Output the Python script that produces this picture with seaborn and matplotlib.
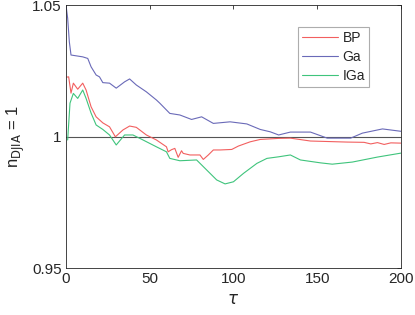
import numpy as np
import pandas as pd
import seaborn as sns
import matplotlib.pyplot as plt

# Values
bp_x = [0.5, 1.6, 3, 4.4, 7, 10, 12, 15, 18, 22, 26, 29.5, 34, 38, 42, 48, 54, 60,
        61, 63, 65, 67, 69, 70, 74, 80, 82, 85, 88, 92, 99, 103, 110, 116, 127,
        134, 146, 168, 178, 182, 186, 190, 194, 200]
bp_y = [1.0226, 1.0227, 1.0165, 1.0203, 1.0180, 1.0203, 1.0177, 1.0113, 1.0075, 1.0052,
        1.0037, 0.9999, 1.0025, 1.0040, 1.0035, 1.0006, 0.9987, 0.9961,
        0.9942, 0.9950, 0.9955, 0.9921, 0.9946, 0.9936, 0.9930, 0.9930, 0.9913, 0.9930,
        0.9949, 0.9949, 0.9951, 0.9964, 0.9980, 0.9989, 0.9993,
        0.9994, 0.9983, 0.9979, 0.9978, 0.9972, 0.9977, 0.9970, 0.9976, 0.9975]

ga_x = [0, 1, 2, 3, 10, 13, 15, 18, 20, 22, 26, 30, 35, 38, 42, 48, 54, 56, 62, 68,
        75, 81, 88, 98, 108, 116, 122, 127, 134, 146, 156, 170, 177, 189, 200]
ga_y = [1.05, 1.045, 1.036, 1.0310, 1.0303, 1.0297, 1.0265, 1.0234, 1.0227, 1.0205,
        1.0203, 1.0184, 1.0208, 1.0219, 1.0196, 1.0170, 1.0139, 1.0127, 1.0088, 1.0082,
        1.0065, 1.0075, 1.0050, 1.0056, 1.0048, 1.0027, 1.0018, 1.0006, 1.0017, 1.0017,
        0.9994, 0.9994, 1.0013, 1.0029, 1.0020]

iga_x = [1, 2.4, 4.4, 7, 10, 12, 15, 18, 22, 26, 30, 35, 40, 46, 54, 60, 62, 68, 78,
         84, 90, 95, 100, 106, 114, 120, 127, 134, 140, 152, 159, 171, 186, 200]
iga_y = [0.9987, 1.0127, 1.0164, 1.0145, 1.0177, 1.0145, 1.0089, 1.0044, 1.0027, 1.0006,
         0.9968, 1.0006, 1.0006, 0.9987, 0.9961, 0.9942, 0.9917, 0.9908, 0.9911,
         0.9873, 0.9835, 0.9820, 0.9828, 0.9860, 0.9898, 0.9917, 0.9923, 0.9930, 0.9911,
         0.9900, 0.9895, 0.9903, 0.9922, 0.9937]

series = ["BP", "Ga", "IGa"]
colors = ["#f25f5f", "#6a6ab8", "#3fc47c"]

df = pd.concat([
    pd.DataFrame({"tau": bp_x, "val": bp_y, "method": "BP"}),
    pd.DataFrame({"tau": ga_x, "val": ga_y, "method": "Ga"}),
    pd.DataFrame({"tau": iga_x, "val": iga_y, "method": "IGa"}),
])

sns.set_style("white")
plt.rcParams["font.family"] = ["Liberation Sans", "DejaVu Sans"]

fig = plt.figure(figsize=(4.15, 3.15), dpi=100)
ax = fig.add_axes([0.159, 0.149, 0.807, 0.835])

ax.axhline(1, color="#555555", lw=0.8, zorder=1)
sns.lineplot(data=df, x="tau", y="val", hue="method", hue_order=series,
             palette=colors, lw=0.8, ax=ax, legend=True, sort=False, zorder=2)

ax.set_xlim(0, 200)
ax.set_ylim(0.95, 1.05)
ax.set_xticks([0, 50, 100, 150, 200])
ax.set_yticks([0.95, 1, 1.05])
ax.set_yticklabels(["0.95", "1", "1.05"])
ax.tick_params(direction="in", length=3, width=0.6, labelsize=11,
               colors="#262626", top=True, right=True, pad=3)
for s in ax.spines.values():
    s.set_color("#262626")
    s.set_linewidth(0.6)
ax.set_xlabel(r"$\tau$", fontsize=12, color="#262626")
ax.set_ylabel(r"n$_{\mathrm{DJIA}}$ = 1", fontsize=12, color="#262626", labelpad=4)

leg = ax.legend(loc="upper right", bbox_to_anchor=(0.905, 0.916), borderaxespad=0,
                fontsize=10, frameon=True, fancybox=False, edgecolor="#999999",
                handlelength=2.6, borderpad=0.3, labelspacing=0.35, handletextpad=0.3)
leg.get_frame().set_linewidth(0.8)

fig.savefig("out.png", dpi=100)
